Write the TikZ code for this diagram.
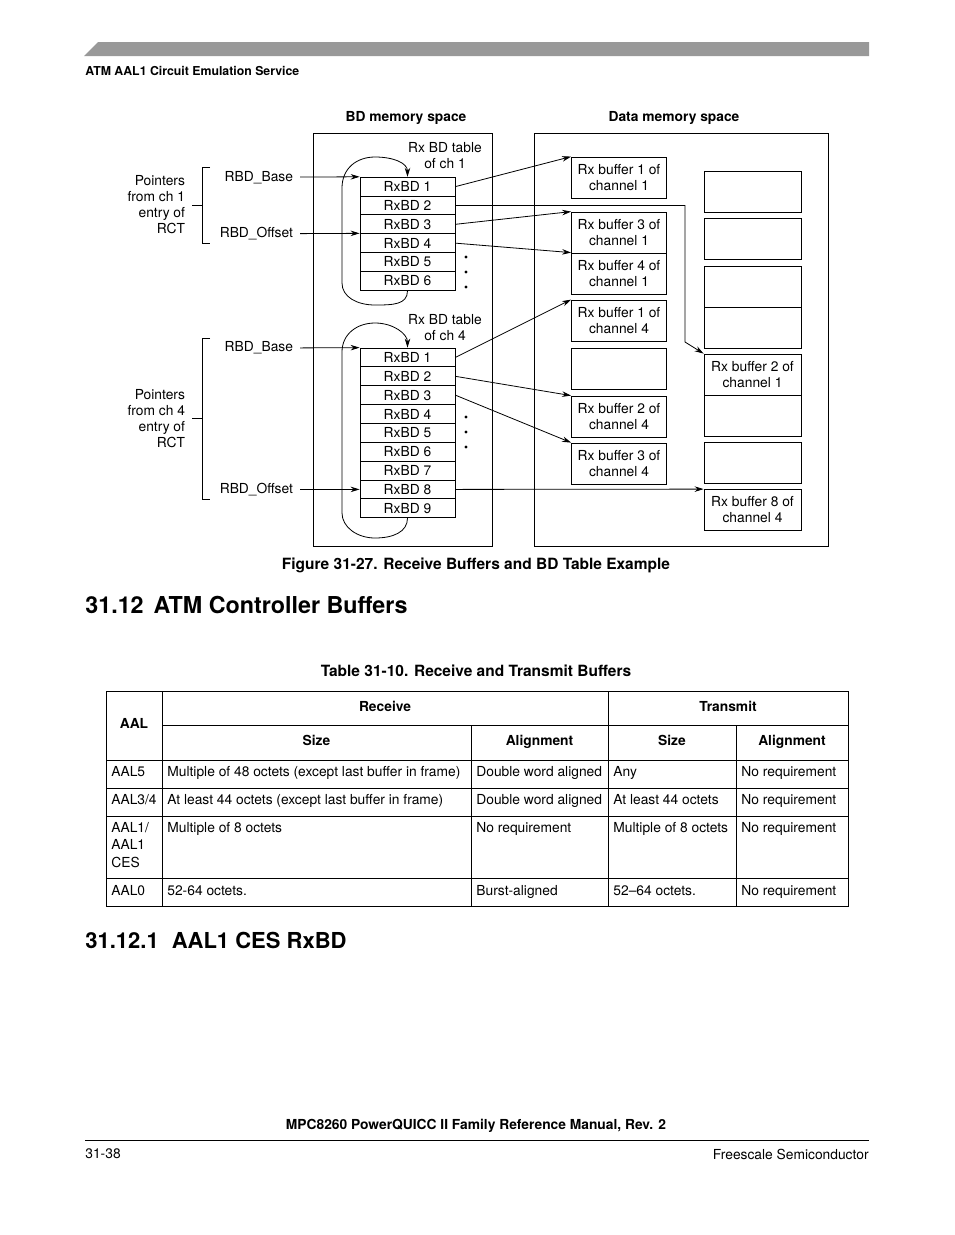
\documentclass[tikz,border=0pt]{standalone}
\usepackage{fontspec}
\setmainfont{TeX Gyre Heros}
\usetikzlibrary{arrows.meta,positioning,calc}

\begin{document}
\begin{tikzpicture}[x=1pt, y=-1pt, line width=0.8pt,
  font=\fontsize{13.8}{16}\selectfont,
  bdrow/.style={draw, minimum width=95pt, minimum height=18.85pt, inner sep=0pt},
  buf/.style={draw, minimum width=95pt, minimum height=41pt, align=center, inner sep=0pt},
  lbl/.style={inner sep=0pt, align=center},
  ptr/.style={inner sep=0pt, outer xsep=7pt, anchor=east},
  note/.style={inner sep=0pt, outer xsep=7pt, align=right, anchor=east},
  bold/.style={inner sep=0pt, font=\bfseries\fontsize{13.8}{16}\selectfont},
  hdr/.style={bold, anchor=base},
  caption/.style={inner sep=0pt, font=\bfseries\fontsize{15.5}{18}\selectfont},
  cell/.style={anchor=north west, inner sep=0pt, align=left, font=\fontsize{13.8}{17.5}\selectfont},
  arr/.style={-{Stealth[length=9pt, width=5.5pt]}}
]
\useasboundingbox (0,0) rectangle (954,1235);

% page header
\fill[black!40] (84,56) -- (98,42) -- (869,42) -- (869,56) -- cycle;
\node[anchor=west, inner sep=0pt, font=\bfseries\fontsize{12.3}{14}\selectfont] (runhead) at (85,71)
  {ATM AAL1 Circuit Emulation Service};

% memory spaces
\node[bold] (bdmem) at (406,118) {BD memory space};
\node[bold] (datamem) at (674,118) {Data memory space};
\draw (313,133) rectangle (492,546.5);
\draw (534.5,133) rectangle (828,546.5);

% BD tables
\foreach \i in {1,...,6}
  \node[bdrow] (ca\i) at (407.5, {167.75+18.85*\i}) {RxBD \i};
\foreach \i in {1,...,9}
  \node[bdrow] (cb\i) at (407.5, {338.6+18.85*\i}) {RxBD \i};
\node[lbl] (taba) at (445,156) {Rx BD table\\of ch 1};
\node[lbl] (tabb) at (445,327.5) {Rx BD table\\of ch 4};

% wrap around
\draw[arr] (ca6.south) .. controls +(0,14) and +(18,0) .. (375,305)
  .. controls +(-18,0) and +(0,14) .. (342,283) -- (342,188)
  .. controls +(0,-20) and +(-18,0) .. (375,157)
  .. controls +(18,0) and +(0,-14) .. (ca1.north);
\draw[arr] (cb9.south) .. controls +(0,14) and +(18,0) .. (375,538)
  .. controls +(-18,0) and +(0,14) .. (342,513) -- (342,352)
  .. controls +(0,-18) and +(-18,0) .. (375,323)
  .. controls +(18,0) and +(0,-14) .. (cb1.north);

\foreach \y in {257,272,287,417,432,447}
  \fill (466,\y) circle[radius=1.6pt];

% RCT pointers
\node[ptr] (basea) at (300,177.3) {RBD\_Base};
\node[ptr] (offa) at (300,233.85) {RBD\_Offset};
\node[ptr] (baseb) at (300,348.1) {RBD\_Base};
\node[ptr] (offb) at (300,489.4) {RBD\_Offset};
\draw[arr] (basea) -- (ca1.north west);
\draw[arr] (offa) -- (ca4.north west);
\draw[arr] (baseb) -- (cb1.north west);
\draw[arr] (offb) -- (cb8.west);

\node[note] (ptra) at (192,205) {Pointers\\from ch 1\\entry of\\RCT};
\node[note] (ptrb) at (192,418.5) {Pointers\\from ch 4\\entry of\\RCT};
\draw (210,167) -- (202,167) -- (202,243) -- (210,243) (202,205) -- (ptra.east);
\draw (210,338) -- (202,338) -- (202,499) -- (210,499) (202,418.5) -- (ptrb.east);

% data buffers
\node[buf] (b11) at (619,177.5) {Rx buffer 1 of\\channel 1};
\node[buf] (b13) at (619,232.5) {Rx buffer 3 of\\channel 1};
\node[buf] (b14) at (619,273.5) {Rx buffer 4 of\\channel 1};
\node[buf] (b41) at (619,320.5) {Rx buffer 1 of\\channel 4};
\node[buf] (e1) at (619,368.5) {};
\node[buf] (b42) at (619,416.5) {Rx buffer 2 of\\channel 4};
\node[buf] (b43) at (619,463.5) {Rx buffer 3 of\\channel 4};

\node[buf, minimum width=97pt] (e2) at (752.5,192) {};
\node[buf, minimum width=97pt] (e3) at (752.5,239) {};
\node[buf, minimum width=97pt] (e4) at (752.5,286.5) {};
\node[buf, minimum width=97pt] (e5) at (752.5,327.5) {};
\node[buf, minimum width=97pt] (b12) at (752.5,374.5) {Rx buffer 2 of\\channel 1};
\node[buf, minimum width=97pt] (e6) at (752.5,415.5) {};
\node[buf, minimum width=97pt] (e7) at (752.5,463) {};
\node[buf, minimum width=97pt] (b48) at (752.5,510) {Rx buffer 8 of\\channel 4};

\coordinate (bend) at (685,342);
\draw[arr] (ca1.east) -- (b11.north west);
\draw[arr] (ca2.east) -- (ca2.east -| bend) -- (bend) -- (b12.north west);
\draw[arr] (ca3.east) -- (b13.north west);
\draw[arr] (ca4.east) -- (b14.north west);
\draw[arr] (cb1.east) -- (b41.north west);
\draw[arr] (cb2.east) -- (b42.north west);
\draw[arr] (cb3.east) -- (b43.north west);
\draw[arr] (cb8.east) -- (b48.north west);

\node[caption] (figcap) at (476,565) {Figure 31-27. Receive Buffers and BD Table Example};

% section 31.12
\node[anchor=west, inner sep=0pt, font=\bfseries\fontsize{23.3}{28}\selectfont] (sec) at (85,605)
  {31.12\hspace{10pt}ATM Controller Buffers};
\node[caption] (tabcap) at (476,670.5) {Table 31-10. Receive and Transmit Buffers};

% table
\draw (106,691) rectangle (848,906);
\draw (162,725) -- (848,725);
\foreach \y in {760,788,816,878} \draw (106,\y) -- (848,\y);
\foreach \x in {162,608} \draw (\x,691) -- (\x,906);
\foreach \x in {471,736} \draw (\x,725) -- (\x,906);

\node[hdr] (haal) at (134,728) {AAL};
\node[hdr] (hrx) at (385,711) {Receive};
\node[hdr] (htx) at (728,711) {Transmit};
\node[hdr] (hrxs) at (316.5,745) {Size};
\node[hdr] (hrxa) at (539.5,745) {Alignment};
\node[hdr] (htxs) at (672,745) {Size};
\node[hdr] (htxa) at (792,745) {Alignment};

\node[cell] (c11) at (111,766) {AAL5};
\node[cell] (c12) at (167,766) {Multiple of 48 octets (except last buffer in frame)};
\node[cell] (c13) at (476,766) {Double word aligned};
\node[cell] (c14) at (613,766) {Any};
\node[cell] (c15) at (741,766) {No requirement};

\node[cell] (c21) at (111,794) {AAL3/4};
\node[cell] (c22) at (167,794) {At least 44 octets (except last buffer in frame)};
\node[cell] (c23) at (476,794) {Double word aligned};
\node[cell] (c24) at (613,794) {At least 44 octets};
\node[cell] (c25) at (741,794) {No requirement};

\node[cell] (c31) at (111,822) {AAL1/\\AAL1\\CES};
\node[cell] (c32) at (167,822) {Multiple of 8 octets};
\node[cell] (c33) at (476,822) {No requirement};
\node[cell] (c34) at (613,822) {Multiple of 8 octets};
\node[cell] (c35) at (741,822) {No requirement};

\node[cell] (c41) at (111,885) {AAL0};
\node[cell] (c42) at (167,885) {52-64 octets.};
\node[cell] (c43) at (476,885) {Burst-aligned};
\node[cell] (c44) at (613,885) {52--64 octets.};
\node[cell] (c45) at (741,885) {No requirement};

% section 31.12.1
\node[anchor=west, inner sep=0pt, font=\bfseries\fontsize{22}{27}\selectfont] (subsec) at (85,940)
  {31.12.1\hspace{13pt}AAL1 CES RxBD};

% page footer
\node[bold] (foot) at (476,1126) {MPC8260 PowerQUICC II Family Reference Manual, Rev. 2};
\draw (85,1140) -- (869,1140);
\node[anchor=west, inner sep=0pt] (pageno) at (85,1154) {31-38};
\node[anchor=east, inner sep=0pt] (vendor) at (869,1154) {Freescale Semiconductor};
\end{tikzpicture}
\end{document}
